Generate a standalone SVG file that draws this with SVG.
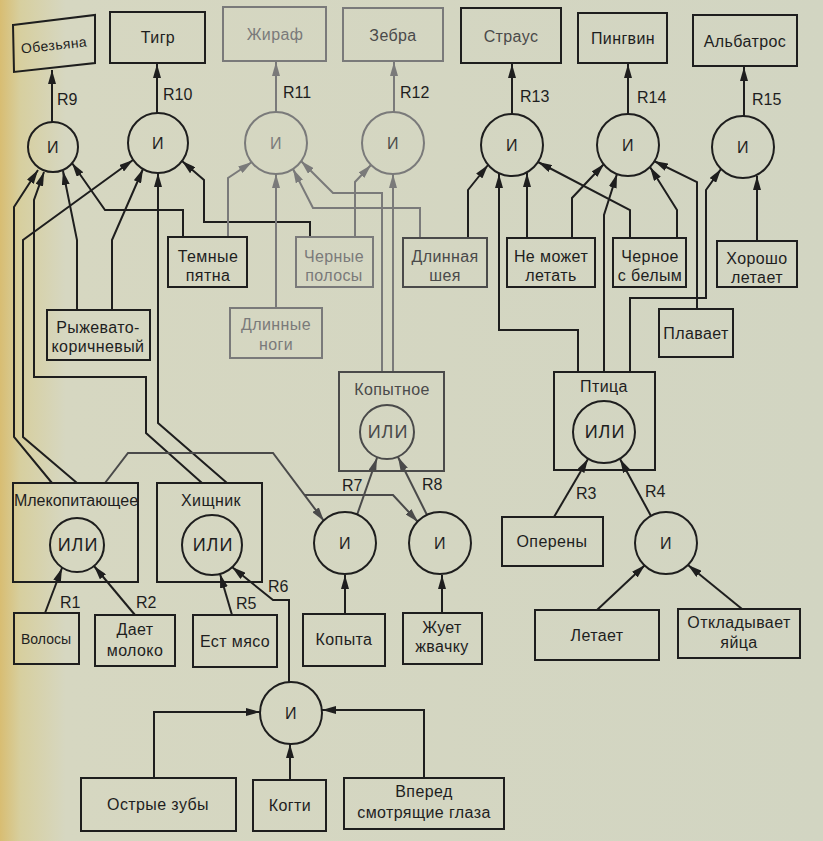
<svg xmlns="http://www.w3.org/2000/svg" width="823" height="841" viewBox="0 0 823 841">
<defs>
<linearGradient id="paper" x1="0" y1="0" x2="1" y2="0">
<stop offset="0" stop-color="#d8bd72"/>
<stop offset="0.025" stop-color="#d7cf9f"/>
<stop offset="0.08" stop-color="#d6d7c1"/>
<stop offset="1" stop-color="#d2d5c2"/>
</linearGradient>
<marker id="ah" viewBox="0 0 14 8" refX="14" refY="4" markerWidth="14" markerHeight="8" markerUnits="userSpaceOnUse" orient="auto">
<path d="M0,0 L14,4 L0,8 z" fill="#1e1e1e"/>
</marker>
<marker id="ahg" viewBox="0 0 14 8" refX="14" refY="4" markerWidth="14" markerHeight="8" markerUnits="userSpaceOnUse" orient="auto">
<path d="M0,0 L14,4 L0,8 z" fill="#7a7a7a"/>
</marker>
<marker id="ahm" viewBox="0 0 14 8" refX="14" refY="4" markerWidth="14" markerHeight="8" markerUnits="userSpaceOnUse" orient="auto">
<path d="M0,0 L14,4 L0,8 z" fill="#4a4a4a"/>
</marker>
</defs>
<style>
.box{fill:none;stroke:#1e1e1e;stroke-width:2}
.boxg{fill:none;stroke:#7a7a7a;stroke-width:2}
.boxm{fill:none;stroke:#4a4a4a;stroke-width:2}
.t{font-family:"Liberation Sans",Arial,sans-serif;font-size:16px;fill:#1e1e1e;text-anchor:middle;letter-spacing:0.4px}
.tg{fill:#7a7a7a}
.tm{fill:#4a4a4a}
.op{font-size:18px;letter-spacing:1px}
.r{font-family:"Liberation Sans",Arial,sans-serif;font-size:16px;fill:#1e1e1e}
.c{fill:none;stroke:#1e1e1e;stroke-width:2;marker-end:url(#ah)}
.cg{fill:none;stroke:#7a7a7a;stroke-width:2;marker-end:url(#ahg)}
.cm{fill:none;stroke:#4a4a4a;stroke-width:2;marker-end:url(#ahm)}
</style>
<rect x="0" y="0" width="823" height="841" fill="url(#paper)"/>

<g id="connectors">
<!-- outputs to top boxes -->
<path class="c" d="M52 122 V70"/>
<path class="c" d="M157 113 V64"/>
<path class="cg" d="M276 112 V62"/>
<path class="cg" d="M394 112 V62"/>
<path class="c" d="M512 114 V64"/>
<path class="c" d="M628 114 V64"/>
<path class="c" d="M744 116 V67"/>
<!-- R9 inputs -->
<path class="c" d="M52 483 L14 437 V207 L38 170"/>
<path class="c" d="M202 483 L146 433 V377 H34 V200 L44 172"/>
<path class="c" d="M77 310 V240 L63 171"/>
<path class="c" d="M183 237 V210 H105 L72 163"/>
<!-- R10 inputs -->
<path class="c" d="M77 483 L23 437 V240 L133 160"/>
<path class="c" d="M112 310 V240 L143 169"/>
<path class="c" d="M227 483 L158 423 V173"/>
<path class="c" d="M310 237 V222 H204 V180 L182 161"/>
<!-- R11 inputs -->
<path class="cg" d="M228 237 V178 L252 162"/>
<path class="cg" d="M276 308 V174"/>
<path class="cg" d="M420 237 V208 H313 L293 169"/>
<path class="cg" d="M382 372 V193 H333 L301 161"/>
<!-- R12 inputs -->
<path class="cg" d="M355 237 V182 L371 165"/>
<path class="cg" d="M393 372 V174"/>
<!-- R13 inputs -->
<path class="c" d="M468 237 V190 L488 165"/>
<path class="c" d="M527 237 V173"/>
<path class="c" d="M578 372 V330 H499 V174"/>
<path class="c" d="M630 237 V210 L538 162"/>
<!-- R14 inputs -->
<path class="c" d="M572 237 V198 L604 164"/>
<path class="c" d="M604 372 V215 L617 174"/>
<path class="c" d="M677 237 V210 L650 167"/>
<path class="c" d="M697 309 V182 L654 161"/>
<!-- R15 inputs -->
<path class="c" d="M757 240 V176"/>
<path class="c" d="M630 372 V298 H706 V190 L721 169"/>
<!-- R7 / R8 -->
<path class="cm" d="M105 483 L128 453 H273 L324 521"/>
<path class="cm" d="M305 495 H393 L418 522"/>
<path class="cm" d="M357 515 L377 458"/>
<path class="cm" d="M427 515 L398 457"/>
<path class="c" d="M345 614 V575"/>
<path class="c" d="M442 613 V575"/>
<!-- R1 R2 R5 R6 -->
<path class="c" d="M45 613 L62 568"/>
<path class="c" d="M135 615 L94 566"/>
<path class="c" d="M232 615 L220 574"/>
<path class="c" d="M289 682 V600 H273 L232 567"/>
<!-- bottom И inputs -->
<path class="c" d="M154 778 V712 H260"/>
<path class="c" d="M290 780 V744"/>
<path class="c" d="M424 778 V710 H322"/>
<!-- bird -->
<path class="c" d="M554 517 L588 459"/>
<path class="c" d="M651 516 L620 459"/>
<path class="c" d="M597 610 L645 565"/>
<path class="c" d="M742 609 L688 565"/>
<!-- rule labels -->
<text class="r" x="57" y="105">R9</text>
<text class="r" x="163" y="100">R10</text>
<text class="r tg" x="283" y="98">R11</text>
<text class="r" x="400" y="98" fill="#4a4a4a">R12</text>
<text class="r" x="520" y="102">R13</text>
<text class="r" x="637" y="103">R14</text>
<text class="r" x="752" y="105">R15</text>
<text class="r" x="60" y="608">R1</text>
<text class="r" x="136" y="608">R2</text>
<text class="r" x="236" y="609">R5</text>
<text class="r" x="268" y="592">R6</text>
<text class="r" x="342" y="491">R7</text>
<text class="r" x="422" y="490">R8</text>
<text class="r" x="576" y="499">R3</text>
<text class="r" x="645" y="497">R4</text>
</g>

<!-- top boxes -->
<g id="monkey"><polygon class="box" points="13,25 95,15 95,63 14,72"/><text class="t" x="54" y="50" font-size="14" transform="rotate(-6 54 45)" style="font-size:14px">Обезьяна</text></g>
<g id="tiger"><rect class="box" x="110" y="12" width="95" height="51"/><text class="t" x="158" y="43">Тигр</text></g>
<g id="giraffe"><rect class="boxg" x="223" y="7" width="103" height="54"/><text class="t tg" x="275" y="40">Жираф</text></g>
<g id="zebra"><rect class="boxg" x="343" y="8" width="100" height="53"/><text class="t tm" x="393" y="41">Зебра</text></g>
<g id="ostrich"><rect class="box" x="461" y="8" width="100" height="55"/><text class="t tm" x="511" y="42">Страус</text></g>
<g id="penguin"><rect class="box" x="578" y="13" width="89" height="50"/><text class="t" x="623" y="44">Пингвин</text></g>
<g id="albatross"><rect class="box" x="693" y="15" width="104" height="51"/><text class="t" x="745" y="47">Альбатрос</text></g>

<!-- top И circles -->
<g id="r9"><circle class="box" cx="53" cy="147" r="25"/><text class="t" x="53" y="153">И</text></g>
<g id="r10"><circle class="box" cx="158" cy="143" r="30"/><text class="t" x="158" y="149">И</text></g>
<g id="r11"><circle class="boxg" cx="276" cy="143" r="31"/><text class="t tg" x="276" y="149">И</text></g>
<g id="r12"><circle class="boxg" cx="393" cy="143" r="31"/><text class="t tm" x="393" y="149">И</text></g>
<g id="r13"><circle class="box" cx="512" cy="145" r="31"/><text class="t" x="512" y="151">И</text></g>
<g id="r14"><circle class="box" cx="628" cy="145" r="31"/><text class="t" x="628" y="151">И</text></g>
<g id="r15"><circle class="box" cx="743" cy="147" r="31"/><text class="t" x="743" y="153">И</text></g>

<!-- attribute boxes -->
<g id="dark-spots"><rect class="box" x="168" y="237" width="79" height="50"/><text class="t" x="208" y="262">Темные</text><text class="t" x="208" y="281">пятна</text></g>
<g id="black-stripes"><rect class="boxg" x="296" y="237" width="77" height="50"/><text class="t tg" x="334" y="262">Черные</text><text class="t tg" x="334" y="281">полосы</text></g>
<g id="long-neck"><rect class="boxm" x="403" y="238" width="84" height="49"/><text class="t tm" x="445" y="262">Длинная</text><text class="t tm" x="445" y="281">шея</text></g>
<g id="cannot-fly"><rect class="box" x="507" y="238" width="88" height="49"/><text class="t" x="551" y="262">Не может</text><text class="t" x="551" y="281">летать</text></g>
<g id="black-white"><rect class="box" x="613" y="238" width="73" height="49"/><text class="t" x="650" y="262">Черное</text><text class="t" x="650" y="281">с белым</text></g>
<g id="flies-well"><rect class="box" x="717" y="241" width="80" height="46"/><text class="t" x="757" y="264">Хорошо</text><text class="t" x="757" y="283">летает</text></g>
<g id="tawny"><rect class="box" x="47" y="310" width="103" height="50"/><text class="t" x="98" y="333">Рыжевато-</text><text class="t" x="98" y="352">коричневый</text></g>
<g id="long-legs"><rect class="boxg" x="230" y="308" width="92" height="50"/><text class="t tg" x="276" y="330">Длинные</text><text class="t tg" x="276" y="350">ноги</text></g>
<g id="swims"><rect class="box" x="659" y="309" width="74" height="48"/><text class="t" x="696" y="339">Плавает</text></g>

<!-- category boxes -->
<g id="ungulate"><rect class="boxm" x="339" y="372" width="105" height="99"/><text class="t tm" x="392" y="395">Копытное</text><circle class="boxm" cx="387" cy="432" r="27"/><text class="t tm op" x="388" y="438">ИЛИ</text></g>
<g id="bird"><rect class="box" x="554" y="372" width="101" height="98"/><text class="t" x="604" y="392">Птица</text><circle class="box" cx="604" cy="432" r="31"/><text class="t op" x="605" y="438">ИЛИ</text></g>
<g id="mammal"><rect class="box" x="13" y="483" width="125" height="99"/><text class="t" x="76" y="506" style="letter-spacing:0">Млекопитающее</text><circle class="box" cx="77" cy="545" r="27"/><text class="t op" x="78" y="551">ИЛИ</text></g>
<g id="carnivore"><rect class="box" x="157" y="483" width="105" height="99"/><text class="t" x="211" y="506">Хищник</text><circle class="box" cx="212" cy="545" r="30"/><text class="t op" x="213" y="551">ИЛИ</text></g>

<!-- mid И circles -->
<g id="r7"><circle class="box" cx="345" cy="543" r="31"/><text class="t" x="345" y="549">И</text></g>
<g id="r8"><circle class="box" cx="440" cy="543" r="31"/><text class="t" x="440" y="549">И</text></g>
<g id="r4"><circle class="box" cx="666" cy="543" r="31"/><text class="t" x="666" y="549">И</text></g>
<g id="feathers"><rect class="box" x="502" y="517" width="101" height="49"/><text class="t" x="552" y="547">Оперены</text></g>

<!-- bottom boxes -->
<g id="hair"><rect class="box" x="14" y="613" width="65" height="51"/><text class="t" x="46" y="644" style="font-size:14px;letter-spacing:0">Волосы</text></g>
<g id="milk"><rect class="box" x="95" y="615" width="80" height="51"/><text class="t" x="135" y="635">Дает</text><text class="t" x="135" y="656">молоко</text></g>
<g id="meat"><rect class="box" x="193" y="615" width="84" height="52"/><text class="t" x="235" y="647">Ест мясо</text></g>
<g id="hooves"><rect class="box" x="303" y="614" width="82" height="52"/><text class="t" x="344" y="645">Копыта</text></g>
<g id="cud"><rect class="box" x="403" y="613" width="79" height="51"/><text class="t" x="442" y="633">Жует</text><text class="t" x="442" y="652">жвачку</text></g>
<g id="flies"><rect class="box" x="535" y="610" width="124" height="50"/><text class="t" x="597" y="641">Летает</text></g>
<g id="eggs"><rect class="box" x="678" y="609" width="122" height="49"/><text class="t" x="739" y="628">Откладывает</text><text class="t" x="739" y="648">яйца</text></g>
<g id="r6"><circle class="box" cx="291" cy="713" r="31"/><text class="t" x="291" y="719">И</text></g>
<g id="teeth"><rect class="box" x="81" y="778" width="155" height="53"/><text class="t" x="158" y="810">Острые зубы</text></g>
<g id="claws"><rect class="box" x="253" y="780" width="73" height="51"/><text class="t" x="290" y="811">Когти</text></g>
<g id="eyes"><rect class="box" x="344" y="778" width="160" height="51"/><text class="t" x="424" y="797">Вперед</text><text class="t" x="424" y="818">смотрящие глаза</text></g>
</svg>
